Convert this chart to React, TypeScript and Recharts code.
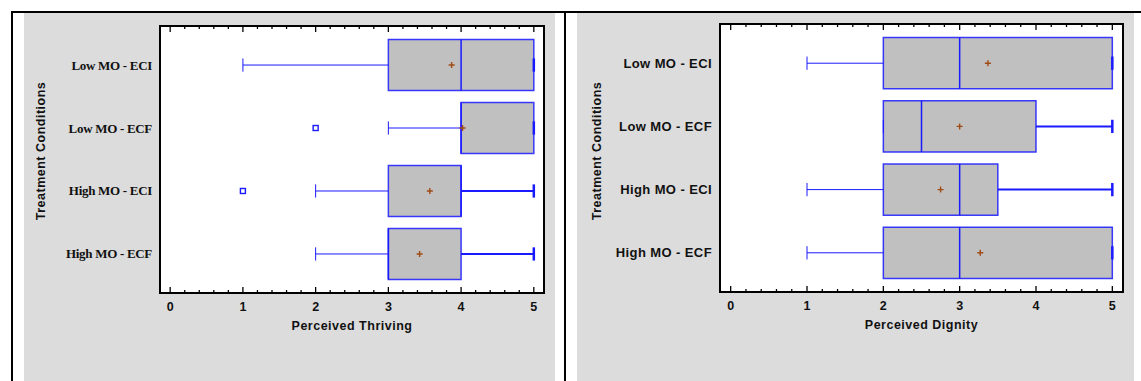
import { CartesianGrid, ReferenceArea, ReferenceLine, Scatter, ScatterChart, XAxis, YAxis } from "recharts";

const GROUPS = ["Low MO - ECI", "Low MO - ECF", "High MO - ECI", "High MO - ECF"];
const GROUP_IDX = [0, 1, 2, 3];

// Perceived Thriving (left panel)
const THRIVE_MIN = [1, 3, 2, 2];
const THRIVE_Q1 = [3, 4, 3, 3];
const THRIVE_MED = [4, 4, 4, 3];
const THRIVE_Q3 = [5, 5, 4, 4];
const THRIVE_MAX = [5, 5, 5, 5];
const THRIVE_MEAN = [3.87, 4.02, 3.57, 3.43];
const THRIVE_OUT_GROUP = [1, 2];
const THRIVE_OUT_VALUE = [2, 1];

// Perceived Dignity (right panel)
const DIGNITY_MIN = [1, 2, 1, 1];
const DIGNITY_Q1 = [2, 2, 2, 2];
const DIGNITY_MED = [3, 2.5, 3, 3];
const DIGNITY_Q3 = [5, 4, 3.5, 5];
const DIGNITY_MAX = [5, 5, 5, 5];
const DIGNITY_MEAN = [3.37, 3.0, 2.75, 3.27];
const DIGNITY_OUT_GROUP: number[] = [];
const DIGNITY_OUT_VALUE: number[] = [];

const X_MAJOR = [0, 1, 2, 3, 4, 5];
const X_DOMAIN = [-0.14, 5.14];
const Y_DOMAIN = [-0.62, 3.62];
const MINOR_STEPS = 5; // 4 minor ticks between majors

const X_TICKS = X_MAJOR.flatMap((m, i) =>
  i === X_MAJOR.length - 1 ? [m] : Array.from({ length: MINOR_STEPS }, (_, k) => +(m + k / MINOR_STEPS).toFixed(3))
);

const BLUE = "#1a1aff";
const BOX_FILL = "#c0c0c0";
const MEAN_COLOR = "#a04a14";
const BG = "#dcdcdc";
const SANS = "'Liberation Sans', Arial, sans-serif";
const SERIF = "'Liberation Serif', 'Times New Roman', serif";
const HALF_BOX = 0.405;
const HALF_CAP = 0.105;

const isMajor = (v: number) => Math.abs(v - Math.round(v)) < 1e-6;

function BottomTick(props: any) {
  const { x, y, payload } = props;
  const v = payload.value;
  const major = isMajor(v);
  return (
    <g>
      <line x1={x} x2={x} y1={y} y2={y - (major ? 6 : 3)} stroke="#000" strokeWidth={1.3} />
      {major && (
        <text x={x} y={y + 18} textAnchor="middle" fontFamily={SANS} fontWeight="bold" fontSize={12.5} fill="#111">
          {Math.round(v)}
        </text>
      )}
    </g>
  );
}

// inward tick hanging from the top frame edge; cx/cy come from the scatter point on the top edge
function TopTickMark(p: any) {
  const major = isMajor(p.payload?.x ?? 0);
  return <line x1={p.cx} x2={p.cx} y1={p.cy} y2={p.cy + (major ? 6 : 3)} stroke="#000" strokeWidth={1.3} />;
}

function MeanMark(p: any) {
  return <path d={`M${p.cx - 3},${p.cy}h6M${p.cx},${p.cy - 3}v6`} stroke={MEAN_COLOR} strokeWidth={1.4} fill="none" />;
}

function OutlierMark(p: any) {
  return <rect x={p.cx - 2.5} y={p.cy - 2.5} width={5} height={5} fill="#fff" stroke={BLUE} strokeWidth={1.4} />;
}

type Stats = {
  min: number[];
  q1: number[];
  med: number[];
  q3: number[];
  max: number[];
  mean: number[];
  outGroup: number[];
  outValue: number[];
};

function BoxPanel(props: {
  stats: Stats;
  xTitle: string;
  labelFont: string;
  labelSize: number;
  labelSpacing: number;
  width: number;
  height: number;
  margin: { top: number; right: number; bottom: number; left: number };
  yAxisWidth: number;
  xAxisHeight: number;
  titleX: number;
  titleDy: number;
}) {
  const { stats, xTitle, labelFont, labelSize, labelSpacing, width, height, margin, yAxisWidth, xAxisHeight, titleX, titleDy } = props;
  const means = stats.mean.map((m, i) => ({ x: m, y: GROUP_IDX[i] }));
  const outliers = stats.outValue.map((v, i) => ({ x: v, y: stats.outGroup[i] }));
  const topTicks = X_TICKS.map((t) => ({ x: t, y: Y_DOMAIN[0] }));

  const LeftTick = (p: any) => (
    <text
      x={p.x - 8}
      y={p.y}
      dy={4.5}
      textAnchor="end"
      fontFamily={labelFont}
      fontWeight="bold"
      fontSize={labelSize}
      letterSpacing={labelSpacing}
      fill="#111"
    >
      {GROUPS[p.payload.value]}
    </text>
  );

  return (
    <ScatterChart width={width} height={height} margin={margin}>
      <CartesianGrid fill="#fff" horizontal={false} vertical={false} />
      <XAxis
        dataKey="x"
        type="number"
        domain={X_DOMAIN}
        allowDataOverflow
        ticks={X_TICKS}
        interval={0}
        tickSize={0}
        tickMargin={0}
        tickLine={false}
        tick={BottomTick}
        height={xAxisHeight}
        axisLine={{ stroke: "#000", strokeWidth: 2 }}
        label={{
          content: (lp: any) => {
            const vb = lp.viewBox || {};
            return (
              <text
                x={vb.x + vb.width / 2}
                y={vb.y + 37}
                textAnchor="middle"
                fontFamily={SANS}
                fontWeight="bold"
                fontSize={12.5}
                letterSpacing={0.5}
                fill="#111"
              >
                {xTitle}
              </text>
            );
          },
        }}
      />
      <YAxis
        dataKey="y"
        type="number"
        domain={Y_DOMAIN}
        allowDataOverflow
        reversed
        ticks={GROUP_IDX}
        interval={0}
        tickSize={0}
        tickMargin={0}
        tickLine={false}
        tick={LeftTick}
        width={yAxisWidth}
        axisLine={{ stroke: "#000", strokeWidth: 2 }}
        label={{
          content: (lp: any) => {
            const vb = lp.viewBox || {};
            const cy = vb.y + vb.height / 2 + titleDy;
            return (
              <text
                x={titleX}
                y={cy}
                transform={`rotate(-90 ${titleX} ${cy})`}
                textAnchor="middle"
                fontFamily={SANS}
                fontWeight="bold"
                fontSize={12.5}
                letterSpacing={0.5}
                fill="#111"
              >
                Treatment Conditions
              </text>
            );
          },
        }}
      />

      {/* plot frame: closes the top and right edges */}
      <ReferenceArea
        x1={X_DOMAIN[0]}
        x2={X_DOMAIN[1]}
        y1={Y_DOMAIN[0]}
        y2={Y_DOMAIN[1]}
        fill="none"
        fillOpacity={0}
        stroke="#000"
        strokeWidth={2}
        ifOverflow="visible"
      />

      {GROUP_IDX.map((g) => (
        <ReferenceLine
          key={`lw${g}`}
          segment={[
            { x: stats.min[g], y: g },
            { x: stats.q1[g], y: g },
          ]}
          stroke={BLUE}
          strokeWidth={1}
        />
      ))}
      {GROUP_IDX.map((g) => (
        <ReferenceLine
          key={`uw${g}`}
          segment={[
            { x: stats.q3[g], y: g },
            { x: stats.max[g], y: g },
          ]}
          stroke={BLUE}
          strokeWidth={2}
        />
      ))}
      {GROUP_IDX.map((g) => (
        <ReferenceArea
          key={`box${g}`}
          x1={stats.q1[g]}
          x2={stats.q3[g]}
          y1={g - HALF_BOX}
          y2={g + HALF_BOX}
          fill={BOX_FILL}
          fillOpacity={1}
          stroke={BLUE}
          strokeWidth={1.5}
          strokeOpacity={0.85}
        />
      ))}
      {GROUP_IDX.map((g) => (
        <ReferenceLine
          key={`med${g}`}
          segment={[
            { x: stats.med[g], y: g - HALF_BOX },
            { x: stats.med[g], y: g + HALF_BOX },
          ]}
          stroke={BLUE}
          strokeWidth={1.5}
        />
      ))}
      {GROUP_IDX.map((g) => (
        <ReferenceLine
          key={`lc${g}`}
          segment={[
            { x: stats.min[g], y: g - HALF_CAP },
            { x: stats.min[g], y: g + HALF_CAP },
          ]}
          stroke={BLUE}
          strokeWidth={1}
        />
      ))}
      {GROUP_IDX.map((g) => (
        <ReferenceLine
          key={`uc${g}`}
          segment={[
            { x: stats.max[g], y: g - HALF_CAP },
            { x: stats.max[g], y: g + HALF_CAP },
          ]}
          stroke={BLUE}
          strokeWidth={2.5}
        />
      ))}
      <Scatter data={topTicks} shape={TopTickMark} isAnimationActive={false} />
      <Scatter data={means} shape={MeanMark} isAnimationActive={false} />
      <Scatter data={outliers} shape={OutlierMark} isAnimationActive={false} />
    </ScatterChart>
  );
}

const line = (left: number, top: number, width: number, height: number) => (
  <div style={{ position: "absolute", left, top, width, height, background: "#000" }} />
);

export default function App() {
  return (
    <div style={{ position: "absolute", left: 0, top: 0, width: 1141, height: 381, background: "#fff", overflow: "hidden" }}>
      {line(11, 11, 1130, 2)}
      {line(11, 11, 2, 370)}
      {line(564, 11, 2, 370)}
      <div style={{ position: "absolute", left: 24, top: 13, width: 531, height: 368, background: BG }}>
        <BoxPanel
          stats={{
            min: THRIVE_MIN,
            q1: THRIVE_Q1,
            med: THRIVE_MED,
            q3: THRIVE_Q3,
            max: THRIVE_MAX,
            mean: THRIVE_MEAN,
            outGroup: THRIVE_OUT_GROUP,
            outValue: THRIVE_OUT_VALUE,
          }}
          xTitle="Perceived Thriving"
          labelFont={SERIF}
          labelSize={13}
          labelSpacing={-0.3}
          width={531}
          height={368}
          margin={{ top: 13, right: 11, bottom: 0, left: 0 }}
          yAxisWidth={136}
          xAxisHeight={88}
          titleX={20.5}
          titleDy={-8.5}
        />
      </div>
      <div style={{ position: "absolute", left: 577, top: 13, width: 557, height: 368, background: BG }}>
        <BoxPanel
          stats={{
            min: DIGNITY_MIN,
            q1: DIGNITY_Q1,
            med: DIGNITY_MED,
            q3: DIGNITY_Q3,
            max: DIGNITY_MAX,
            mean: DIGNITY_MEAN,
            outGroup: DIGNITY_OUT_GROUP,
            outValue: DIGNITY_OUT_VALUE,
          }}
          xTitle="Perceived Dignity"
          labelFont={SANS}
          labelSize={13}
          labelSpacing={0.4}
          width={557}
          height={368}
          margin={{ top: 11, right: 11, bottom: 0, left: 0 }}
          yAxisWidth={143}
          xAxisHeight={89}
          titleX={23.5}
          titleDy={-7}
        />
      </div>
    </div>
  );
}
